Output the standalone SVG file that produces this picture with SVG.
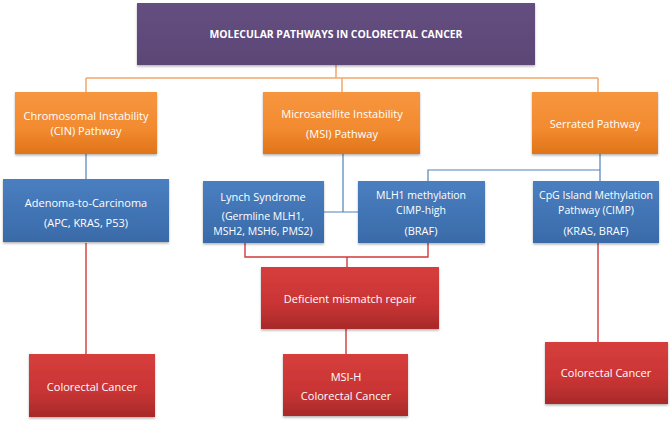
<svg xmlns="http://www.w3.org/2000/svg" width="671" height="422" viewBox="0 0 671 422">
<defs>
<linearGradient id="gP" x1="0" y1="0" x2="0" y2="1"><stop offset="0" stop-color="#654f80"/><stop offset="1" stop-color="#5b4676"/></linearGradient>
<linearGradient id="gO" x1="0" y1="0" x2="0" y2="1"><stop offset="0" stop-color="#f7963f"/><stop offset="0.6" stop-color="#f28a2f"/><stop offset="1" stop-color="#e0741a"/></linearGradient>
<linearGradient id="gB" x1="0" y1="0" x2="0" y2="1"><stop offset="0" stop-color="#4a7fc1"/><stop offset="1" stop-color="#3a6aa8"/></linearGradient>
<linearGradient id="gR" x1="0" y1="0" x2="0" y2="1"><stop offset="0" stop-color="#d63e3c"/><stop offset="0.6" stop-color="#c93434"/><stop offset="1" stop-color="#a82a2a"/></linearGradient>
<filter id="sh" x="-5%" y="-5%" width="110%" height="120%"><feDropShadow dx="0" dy="1.5" stdDeviation="1" flood-color="#000" flood-opacity="0.3"/></filter>
</defs>
<style>
.box{filter:url(#sh)}
.p{fill:url(#gP)}
.o{fill:url(#gO)}
.b{fill:url(#gB)}
.r{fill:url(#gR)}
text{font-family:"Open Sans","Liberation Sans",sans-serif;fill:#fff;text-anchor:middle;dominant-baseline:central;font-size:11px}
.s{font-size:10.5px}
.t{font-size:10px;font-weight:bold}
.lo{stroke:#f4a66a;stroke-width:1.5;fill:none}
.lb{stroke:#4f81bd;stroke-width:1.2;fill:none}
.lr{stroke:#d23a3a;stroke-width:1.4;fill:none}
</style>
<g id="connectors">
<path class="lo" d="M336 65V78M86 78H598M86 78V92M342 78V92M598 78V92"/>
<path class="lb" d="M86 154V179M343 154V212M324 212H358M600 154V181M428 181V170H600"/>
<path class="lr" d="M245 243V257H428V243M347 257V267M86 243V354M598 243V342M346 329V354"/>
</g>
<g id="title"><rect class="box p" x="137" y="3" width="398" height="62"/><text class="t" x="336" y="34" textLength="253" lengthAdjust="spacingAndGlyphs">MOLECULAR PATHWAYS IN COLORECTAL CANCER</text></g>
<g id="cin"><rect class="box o" x="15" y="92" width="142" height="62"/><text x="86" y="115.5">Chromosomal Instability</text><text x="86" y="130.5">(CIN) Pathway</text></g>
<g id="msi"><rect class="box o" x="263" y="92" width="157" height="62"/><text x="342" y="113">Microsatellite Instability</text><text x="342" y="133">(MSI) Pathway</text></g>
<g id="serrated"><rect class="box o" x="532" y="92" width="126" height="62"/><text x="595" y="123">Serrated Pathway</text></g>
<g id="adenoma"><rect class="box b" x="3" y="179" width="166" height="63"/><text x="86" y="202">Adenoma-to-Carcinoma</text><text x="86" y="222">(APC, KRAS, P53)</text></g>
<g id="lynch"><rect class="box b" x="203" y="181" width="121" height="62"/><text x="263" y="196">Lynch Syndrome</text><text class="s" x="263" y="216">(Germline MLH1,</text><text class="s" x="263" y="230.5">MSH2, MSH6, PMS2)</text></g>
<g id="mlh1"><rect class="box b" x="358" y="181" width="127" height="62"/><text class="s" x="421" y="195">MLH1 methylation</text><text class="s" x="421" y="209.5">CIMP-high</text><text x="421" y="230">(BRAF)</text></g>
<g id="cpg"><rect class="box b" x="533" y="181" width="126" height="62"/><text class="s" x="596" y="195">CpG Island Methylation</text><text class="s" x="596" y="209.5">Pathway (CIMP)</text><text x="596" y="230">(KRAS, BRAF)</text></g>
<g id="deficient"><rect class="box r" x="261" y="267" width="178" height="62"/><text x="350" y="298">Deficient mismatch repair</text></g>
<g id="crc1"><rect class="box r" x="29" y="354" width="126" height="63"/><text x="92" y="386">Colorectal Cancer</text></g>
<g id="msih"><rect class="box r" x="283" y="354" width="125" height="62"/><text x="346" y="376">MSI-H</text><text x="346" y="395">Colorectal Cancer</text></g>
<g id="crc3"><rect class="box r" x="545" y="342" width="123" height="62"/><text x="606" y="372">Colorectal Cancer</text></g>
</svg>
